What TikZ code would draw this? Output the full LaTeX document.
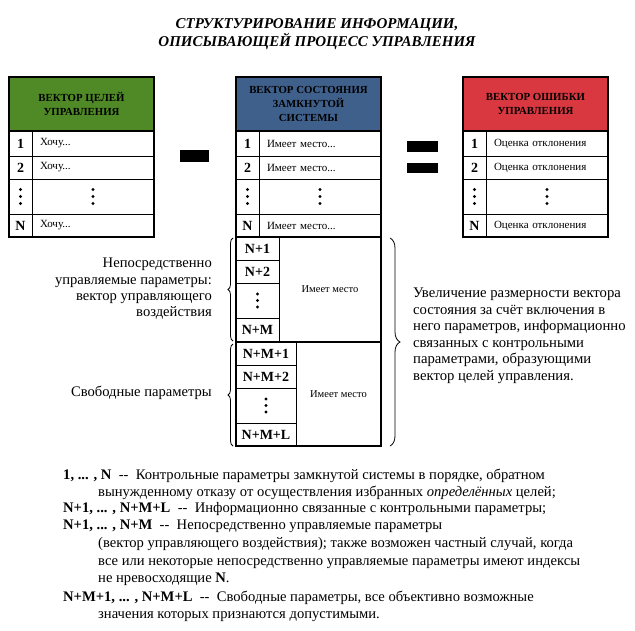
\documentclass[tikz,border=0pt]{standalone}
\usepackage{fontspec}
\setmainfont{Liberation Serif}
\usetikzlibrary{decorations.pathreplacing}
\definecolor{hgreen}{HTML}{4F8A27}
\definecolor{hblue}{HTML}{40608C}
\definecolor{hred}{HTML}{DA3840}
\newcommand\fsz[2]{\fontsize{#1}{#2}\selectfont}
% cell: [opts]{name}{x1}{y1}{x2}{y2}{text}
\newcommand\cellnode[7][]{%
  \pgfmathsetmacro\cw{#5-#3}\pgfmathsetmacro\ch{#6-#4}%
  \node[cellbox,#1,minimum width=\cw pt,minimum height=\ch pt] (#2) at ({(#3+#5)/2},{(#4+#6)/2}) {#7};}
\newcommand\tcellnode[7][]{%
  \pgfmathsetmacro\cw{#5-#3}\pgfmathsetmacro\ch{#6-#4}\pgfmathsetmacro\tw{#5-#3-16}%
  \node[cellbox,rowtext,#1,minimum width=\cw pt,minimum height=\ch pt,text width=\tw pt] (#2) at ({(#3+#5)/2},{(#4+#6)/2}) {#7};}
\newcommand\dotsin[2][7]{\foreach \d in {-1,0,1} \fill ([yshift=\d*#1 pt]#2.center) circle (1.7pt);}
\begin{document}
\begin{tikzpicture}[x=1pt,y=-1pt,
  cellbox/.style={draw, line width=0.8pt, inner sep=0pt, outer sep=0pt},
  num/.style={font=\fsz{14}{16}\bfseries},
  rowtext/.style={align=left, inner xsep=8pt, font=\fsz{11}{13}},
  head/.style={draw, line width=2.5pt, align=center, inner sep=0pt, font=\fsz{10.8}{14}\bfseries},
  frame/.style={line width=2pt},
  bar/.style={fill=black, inner sep=0pt, outer sep=0pt},
  lbl/.style={inner sep=0pt, font=\fsz{14.6}{16.3}},
  leg/.style={inner sep=0pt, anchor=base west, font=\fsz{14.6}{17}},
  bracestyle/.style={decorate, line width=0.8pt, decoration={brace, amplitude=#1}}
]
\useasboundingbox (0,0) rectangle (635,630);

% title
\node[align=center, font=\fsz{15}{18}\bfseries\itshape] (title) at (317,34)
  {СТРУКТУРИРОВАНИЕ ИНФОРМАЦИИ,\\ОПИСЫВАЮЩЕЙ ПРОЦЕСС УПРАВЛЕНИЯ};

% ---------- left table ----------
\cellnode[head, fill=hgreen]{Lh}{9}{77}{154}{131}{ВЕКТОР ЦЕЛЕЙ\\УПРАВЛЕНИЯ}
\cellnode[num]{L1n}{9}{131}{32}{156}{1}
\tcellnode{L1t}{32}{131}{154}{156}{Хочу...}
\cellnode[num]{L2n}{9}{156}{32}{179}{2}
\tcellnode{L2t}{32}{156}{154}{179}{Хочу...}
\cellnode{L3n}{9}{179}{32}{214}{}
\cellnode{L3t}{32}{179}{154}{214}{}
\cellnode[num]{L4n}{9}{214}{32}{237}{N}
\tcellnode{L4t}{32}{214}{154}{237}{Хочу...}
\dotsin{L3n}\dotsin{L3t}
\draw[frame] (Lh.north west) rectangle (L4t.south east);
\draw[line width=2.5pt] (Lh.north west) rectangle (Lh.south east);

% ---------- middle table ----------
\cellnode[head, fill=hblue]{Mh}{236}{77}{381}{131}{ВЕКТОР СОСТОЯНИЯ\\ЗАМКНУТОЙ\\СИСТЕМЫ}
\cellnode[num]{M1n}{236}{131}{259}{156}{1}
\tcellnode{M1t}{259}{131}{381}{156}{Имеет место...}
\cellnode[num]{M2n}{236}{156}{259}{179}{2}
\tcellnode{M2t}{259}{156}{381}{179}{Имеет место...}
\cellnode{M3n}{236}{179}{259}{214}{}
\cellnode{M3t}{259}{179}{381}{214}{}
\cellnode[num]{M4n}{236}{214}{259}{237}{N}
\tcellnode{M4t}{259}{214}{381}{237}{Имеет место...}
\dotsin{M3n}\dotsin{M3t}
\draw[frame] (Mh.north west) rectangle (M4t.south east);
\draw[line width=2.5pt] (Mh.north west) rectangle (Mh.south east);

% block A
\cellnode[num]{An1}{236}{237}{279}{260}{N+1}
\cellnode[num]{An2}{236}{260}{279}{283}{N+2}
\cellnode{An3}{236}{283}{279}{318}{}
\cellnode[num]{An4}{236}{318}{279}{342}{N+M}
\cellnode[font=\fsz{10.5}{12}]{At}{279}{237}{381}{342}{Имеет место}
\dotsin[6.5]{An3}
\draw[frame] (An1.north west) rectangle (At.south east);

% block B
\cellnode[num]{Bn1}{236}{342}{296}{365}{N+M+1}
\cellnode[num]{Bn2}{236}{365}{296}{388}{N+M+2}
\cellnode{Bn3}{236}{388}{296}{423}{}
\cellnode[num]{Bn4}{236}{423}{296}{446}{N+M+L}
\cellnode[font=\fsz{10.5}{12}]{Bt}{296}{342}{381}{446}{Имеет место}
\dotsin[6.5]{Bn3}
\draw[frame] (Bn1.north west) rectangle (Bt.south east);

% ---------- right table ----------
\cellnode[head, fill=hred]{Rh}{463}{77}{608}{131}{ВЕКТОР ОШИБКИ\\УПРАВЛЕНИЯ}
\cellnode[num]{R1n}{463}{131}{486}{156}{1}
\tcellnode[inner xsep=7pt]{R1t}{486}{131}{608}{156}{Оценка отклонения}
\cellnode[num]{R2n}{463}{156}{486}{179}{2}
\tcellnode[inner xsep=7pt]{R2t}{486}{156}{608}{179}{Оценка отклонения}
\cellnode{R3n}{463}{179}{486}{214}{}
\cellnode{R3t}{486}{179}{608}{214}{}
\cellnode[num]{R4n}{463}{214}{486}{237}{N}
\tcellnode[inner xsep=7pt]{R4t}{486}{214}{608}{237}{Оценка отклонения}
\dotsin{R3n}\dotsin{R3t}
\draw[frame] (Rh.north west) rectangle (R4t.south east);
\draw[line width=2.5pt] (Rh.north west) rectangle (Rh.south east);

% operators
\node[bar, minimum width=29pt, minimum height=12pt] (minus) at (194.5,156) {};
\node[bar, minimum width=31pt, minimum height=11pt] (eqA) at (422.5,146.5) {};
\node[bar, minimum width=31pt, minimum height=10pt] (eqB) at (422.5,168) {};

% braces
\coordinate (bA1) at (233,341);
\coordinate (bA2) at (233,238);
\coordinate (bB1) at (233,446);
\coordinate (bB2) at (233,344);
\coordinate (bC1) at (390,238);
\coordinate (bC2) at (390,446);
\draw[bracestyle=5pt] (bA1) -- (bA2);
\draw[bracestyle=5pt] (bB1) -- (bB2);
\draw[bracestyle=10pt] (bC1) -- (bC2);

% side labels
\node[lbl, anchor=east, align=right] (lblA) at (212,289)
  {Непосредственно\\управляемые параметры:\\вектор управляющего\\воздействия};
\node[lbl, anchor=east] (lblB) at (212,393) {Свободные параметры};
\node[lbl, anchor=west, align=left, font=\fsz{14.7}{16.5}] (lblC) at (413,336)
  {Увеличение размерности вектора\\состояния за счёт включения в\\него параметров, информационно\\связанных с контрольными\\параметрами, образующими\\вектор целей управления.};

% legend
\node[leg] (g1) at (63,479) {\textbf{1, ... , N}\ \ -{}-\ \ Контрольные параметры замкнутой системы в порядке, обратном};
\node[leg] (g2) at (98,496) {вынужденному отказу от осуществления избранных \textit{определённых} целей;};
\node[leg] (g3) at (63,512) {\textbf{N+1, ... , N+M+L}\ \ -{}-\ \ Информационно связанные с контрольными параметры;};
\node[leg] (g4) at (63,529) {\textbf{N+1, ... , N+M}\ \ -{}-\ \ Непосредственно управляемые параметры};
\node[leg] (g5) at (98,547) {(вектор управляющего воздействия); также возможен частный случай, когда};
\node[leg] (g6) at (98,565) {все или некоторые непосредственно управляемые параметры имеют индексы};
\node[leg] (g7) at (98,582) {не нревосходящие \textbf{N}.};
\node[leg] (g8) at (63,601) {\textbf{N+M+1, ... , N+M+L}\ \ -{}-\ \ Свободные параметры, все объективно возможные};
\node[leg] (g9) at (98,618) {значения которых признаются допустимыми.};
\end{tikzpicture}
\end{document}
